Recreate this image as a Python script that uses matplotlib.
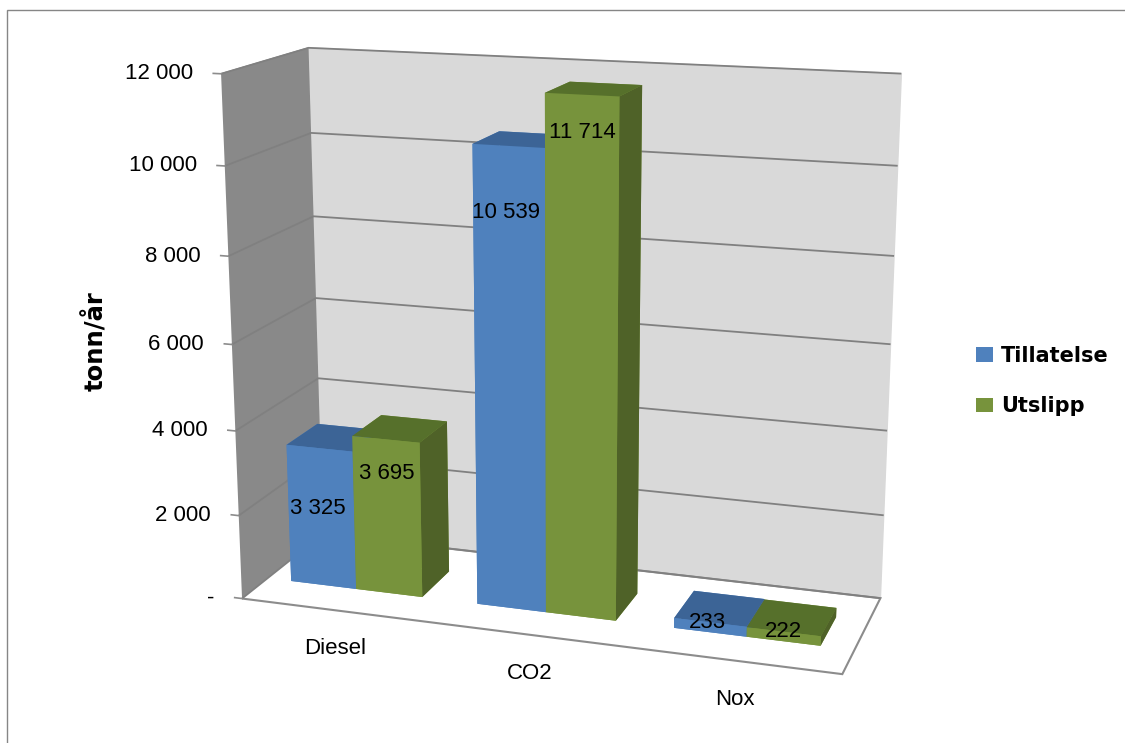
import matplotlib
matplotlib.use("Agg")
import matplotlib.pyplot as plt
from matplotlib.patches import Patch, Rectangle
from mpl_toolkits.mplot3d import proj3d
import numpy as np

# ---- data -------------------------------------------------------------
categories = ["Diesel", "CO2", "Nox"]
series_names = ["Tillatelse", "Utslipp"]
tillatelse = [3325, 10539, 233]
utslipp = [3695, 11714, 222]
z_ticks = [0, 2000, 4000, 6000, 8000, 10000, 12000]
z_tick_labels = ["-", "2 000", "4 000", "6 000", "8 000", "10 000", "12 000"]

# ---- style -----------------------------------------------------------
plt.rcParams["font.family"] = ["Liberation Sans", "DejaVu Sans"]
plt.rcParams["grid.color"] = "#808080"
plt.rcParams["grid.linewidth"] = 1.3
plt.rcParams["grid.linestyle"] = "-"

BLUE = "#4F81BD"
GREEN = "#77933C"
# face order used by bar3d: bottom, top, front, back, left, right
blue_faces = ["#4F81BD", "#3C6496", "#4F81BD", "#4F81BD", "#4F81BD", "#3A5F8F"]
green_faces = ["#77933C", "#56702B", "#77933C", "#77933C", "#77933C", "#4F6228"]

fig = plt.figure(figsize=(11.25, 7.43), dpi=100)
fig.patch.set_facecolor("white")

# outer chart-area frame
fig.add_artist(Rectangle((7 / 1125, -0.05), 1.2, 1.05 - 10 / 743,
                         transform=fig.transFigure, fill=False,
                         edgecolor="#868686", linewidth=1.0))

ax = fig.add_axes([0.13, 0.023, 0.72, 1.0], projection="3d")
ax.set_facecolor((1, 1, 1, 0))
ax.set_proj_type("persp", focal_length=0.55)
ax.view_init(elev=15, azim=-72)
ax.set_box_aspect((3.0, 0.98, 2.6), zoom=1.115)

x_lo, x_hi = -0.5, len(categories) - 0.5
ax.set_xlim(x_lo, x_hi)
ax.set_ylim(0, 1)
ax.set_zlim(0, z_ticks[-1])

# walls and floor
ax.xaxis.set_pane_color("#898989")
ax.yaxis.set_pane_color("#D9D9D9")
ax.zaxis.set_pane_color("white")
ax.zaxis.pane.set_edgecolor("#8C8C8C")
ax.zaxis.pane.set_linewidth(1.5)
for a in (ax.xaxis, ax.yaxis, ax.zaxis):
    a.line.set_color((0, 0, 0, 0))

ax.set_xticks([])
ax.set_yticks([])
ax.set_zticks(z_ticks)
ax.set_zticklabels([])
ax.tick_params(axis="z", colors=(0, 0, 0, 0))

# bars
bar_w = 0.355
bar_y0, bar_dy = 0.3, 0.38
xs = np.arange(len(categories)) - 0.015
xpos = np.concatenate([xs - bar_w, xs])
heights = np.concatenate([tillatelse, utslipp])
face_colors = blue_faces * len(categories) + green_faces * len(categories)
ax.bar3d(xpos, np.full(len(xpos), bar_y0), np.zeros(len(xpos)),
         bar_w, bar_dy, heights, color=face_colors, shade=False)

M = ax.get_proj()


def label_at(x, y, z, s, dx=0, dy=0, **kw):
    """Place a flat text label at the projected position of a 3D point."""
    px, py, _ = proj3d.proj_transform(x, y, z, M)
    return ax.annotate(s, xy=(px, py), xycoords="data", xytext=(dx, dy),
                       textcoords="offset pixels", **kw)


# value axis ticks and labels along the front edge of the side wall
for z, lab in zip(z_ticks, z_tick_labels):
    ax.plot([x_lo - 0.04, x_lo], [0, 0], [z, z], color="#8C8C8C", lw=1.2)
    label_at(x_lo, 0, z, lab, dx=-28, ha="right", va="center", fontsize=16)

# data labels: inside the column near its top, or on top of very low columns
label_drop = [1450, 800]
for i in range(len(categories)):
    for k, (vals, off) in enumerate(((tillatelse, -bar_w / 2), (utslipp, bar_w / 2))):
        v = vals[i]
        zl = v - label_drop[k] if v > 2000 else v
        label_at(xs[i] + off, bar_y0, zl, f"{v:,}".replace(",", " "),
                 dx=3 * k - 3, ha="center", va="center", fontsize=16)

# category labels in front of the floor
for i, cat in enumerate(categories):
    label_at(i, 0, 0, cat, dx=0, dy=-28, ha="center", va="top", fontsize=16)

fig.text(0.085, 0.541, "tonn/år", rotation=90, ha="center", va="center",
         fontsize=17.5, fontweight="bold", family="DejaVu Sans")

handles = [Patch(facecolor=BLUE), Patch(facecolor=GREEN)]
fig.legend(handles, series_names, loc="center left",
           bbox_to_anchor=(0.851, 0.487), frameon=False,
           prop={"size": 15, "weight": "bold", "family": "DejaVu Sans"},
           handlelength=0.8, handleheight=0.7, handletextpad=0.4,
           labelspacing=1.45)

fig.savefig("out.png", dpi=100)
